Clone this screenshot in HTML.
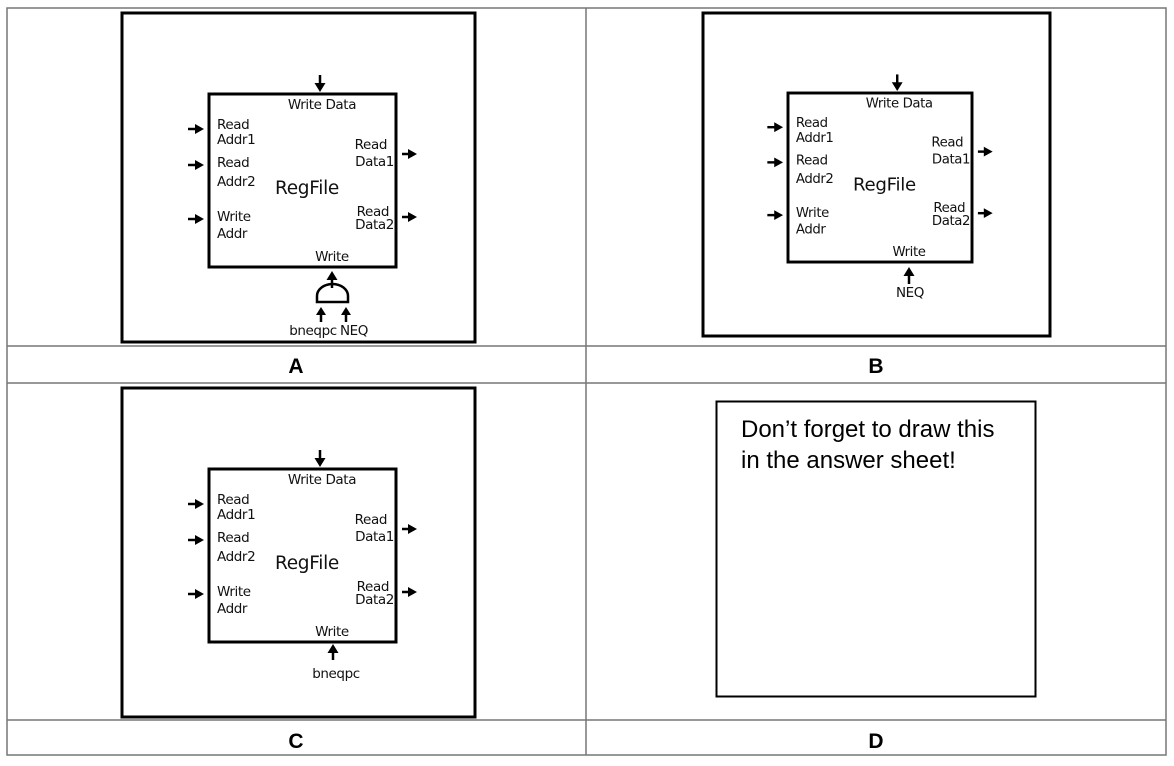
<!DOCTYPE html>
<html><head><meta charset="utf-8"><style>
html,body{margin:0;padding:0;background:#fff;}
svg{display:block;}
.t{font-family:"DejaVu Sans","Liberation Sans",sans-serif;font-size:13.5px;fill:#111;letter-spacing:-0.4px;}
.rf{font-family:"DejaVu Sans","Liberation Sans",sans-serif;font-size:18.5px;fill:#111;letter-spacing:-0.3px;}
.lab{font-family:"Liberation Sans",sans-serif;font-size:21px;font-weight:bold;fill:#000;}
</style></head><body>
<svg width="1174" height="766" viewBox="0 0 1174 766" xmlns="http://www.w3.org/2000/svg">
<defs>
<g id="rf">
  <rect x="209" y="94" width="187" height="173" fill="none" stroke="#000" stroke-width="3"/>
  <line x1="320" y1="75" x2="320" y2="85" stroke="#000" stroke-width="2.5"/>
  <path d="M314.5,83 L325.5,83 L320,92 Z" fill="#000"/>
  <text class="t" x="322" y="109" text-anchor="middle">Write Data</text>
  <g fill="#000" stroke="#000" stroke-width="2.5">
    <line x1="188" y1="129" x2="197" y2="129"/><path d="M195,124 L204,129 L195,134 Z" stroke="none"/>
    <line x1="188" y1="165" x2="197" y2="165"/><path d="M195,160 L204,165 L195,170 Z" stroke="none"/>
    <line x1="188" y1="219" x2="197" y2="219"/><path d="M195,214 L204,219 L195,224 Z" stroke="none"/>
    <line x1="402" y1="154" x2="410" y2="154"/><path d="M408,149 L417,154 L408,159 Z" stroke="none"/>
    <line x1="402" y1="217" x2="410" y2="217"/><path d="M408,212 L417,217 L408,222 Z" stroke="none"/>
  </g>
  <text class="t" x="217" y="129">Read</text>
  <text class="t" x="217" y="144">Addr1</text>
  <text class="t" x="217" y="167">Read</text>
  <text class="t" x="217" y="186">Addr2</text>
  <text class="t" x="217" y="221">Write</text>
  <text class="t" x="217" y="238">Addr</text>
  <text class="t" x="387" y="149" text-anchor="end">Read</text>
  <text class="t" x="394" y="166" text-anchor="end">Data1</text>
  <text class="t" x="389" y="216" text-anchor="end">Read</text>
  <text class="t" x="394" y="229" text-anchor="end">Data2</text>
  <text class="t" x="332" y="261" text-anchor="middle">Write</text>
  <text class="rf" x="307" y="194" text-anchor="middle">RegFile</text>
</g>
</defs>

<g stroke="#777" stroke-width="1.5" fill="none">
  <rect x="7" y="8" width="1159" height="747"/>
  <line x1="7" y1="346" x2="1166" y2="346"/>
  <line x1="7" y1="383" x2="1166" y2="383"/>
  <line x1="7" y1="720" x2="1166" y2="720"/>
  <line x1="586" y1="8" x2="586" y2="755"/>
</g>

<!-- Panel A -->
<rect x="122" y="13" width="353" height="329" fill="none" stroke="#000" stroke-width="3"/>
<use href="#rf"/>
<g fill="#000" stroke="#000" stroke-width="2.5">
  <line x1="332" y1="278" x2="332" y2="288"/><path d="M326.5,280 L337.5,280 L332,271 Z" stroke="none"/>
  <path d="M317,302 L317,296 A15.5,12 0 0 1 348,296 L348,302 Z" fill="none" stroke-width="2.5"/>
  <line x1="321" y1="313" x2="321" y2="322"/><path d="M316,315 L326,315 L321,307 Z" stroke="none"/>
  <line x1="346" y1="313" x2="346" y2="322"/><path d="M341,315 L351,315 L346,307 Z" stroke="none"/>
</g>
<text class="t" x="313" y="335" text-anchor="middle">bneqpc</text>
<text class="t" x="354" y="335" text-anchor="middle">NEQ</text>
<text class="lab" x="296" y="373" text-anchor="middle">A</text>

<!-- Panel B -->
<rect x="703" y="13" width="347" height="323" fill="none" stroke="#000" stroke-width="3"/>
<g transform="translate(788,93) scale(0.984,0.977) translate(-209,-94)"><use href="#rf"/></g>
<g fill="#000" stroke="#000" stroke-width="2.5">
  <line x1="909" y1="274" x2="909" y2="284"/><path d="M903.5,276 L914.5,276 L909,267 Z" stroke="none"/>
</g>
<text class="t" x="910" y="297" text-anchor="middle">NEQ</text>
<text class="lab" x="876" y="373" text-anchor="middle">B</text>

<!-- Panel C -->
<rect x="122" y="388" width="353" height="329" fill="none" stroke="#000" stroke-width="3"/>
<g transform="translate(0,375)"><use href="#rf"/></g>
<g fill="#000" stroke="#000" stroke-width="2.5">
  <line x1="333" y1="651" x2="333" y2="660"/><path d="M327.5,653 L338.5,653 L333,644 Z" stroke="none"/>
</g>
<text class="t" x="336" y="678" text-anchor="middle">bneqpc</text>
<text class="lab" x="296" y="748" text-anchor="middle">C</text>

<!-- Panel D -->
<rect x="716.5" y="401.5" width="319" height="295" fill="none" stroke="#000" stroke-width="2"/>
<text x="741" y="437" style="font-family:'Liberation Sans',sans-serif;font-size:24px;fill:#000">Don’t forget to draw this</text>
<text x="741" y="468" style="font-family:'Liberation Sans',sans-serif;font-size:24px;fill:#000">in the answer sheet!</text>
<text class="lab" x="876" y="748" text-anchor="middle">D</text>
</svg>
</body></html>
